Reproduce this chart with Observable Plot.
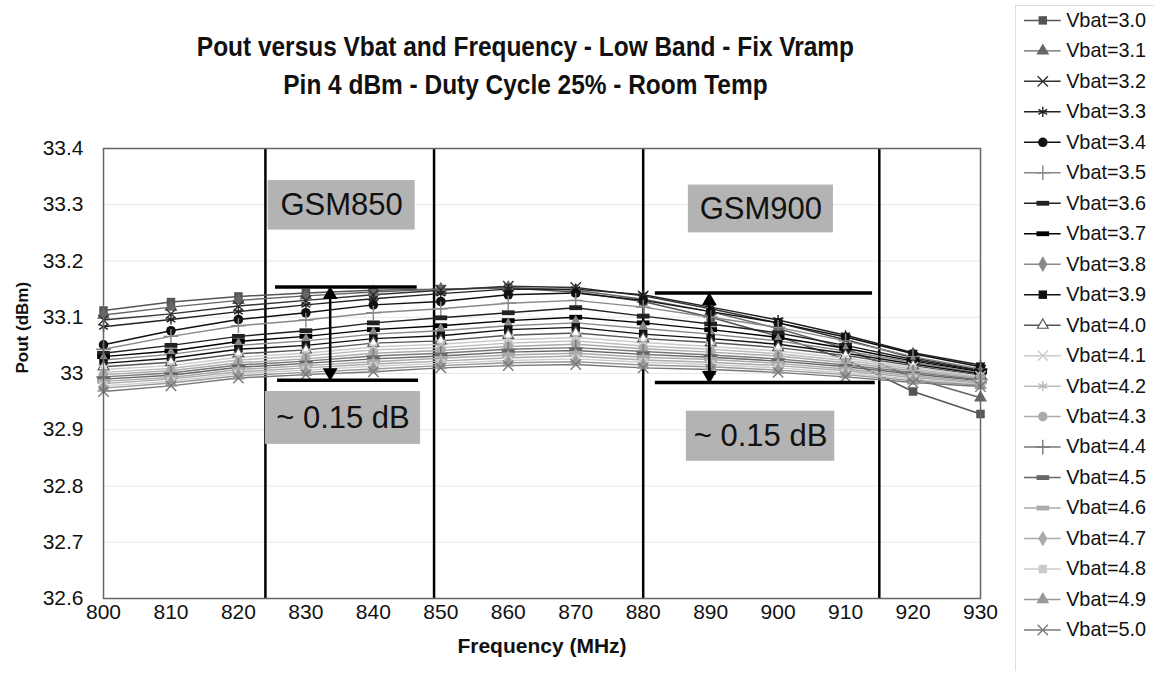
<!DOCTYPE html>
<html><head><meta charset="utf-8">
<script src="https://cdn.jsdelivr.net/npm/d3@7"></script>
<script src="https://cdn.jsdelivr.net/npm/@observablehq/plot@0.6"></script>
<style>
body{margin:0;background:#fff;font-family:"Liberation Sans",Arial,sans-serif;}
#wrap{position:relative;width:1154px;height:675px;overflow:hidden;background:#fff;}
#main{position:absolute;left:0;top:0;}
#title{position:absolute;left:0;top:28px;width:1051px;text-align:center;font-family:"Liberation Sans",Arial,sans-serif;font-weight:bold;font-size:27px;line-height:38px;color:#111;transform:scaleX(0.905);transform-origin:525px 0;}
#legend{position:absolute;left:1015px;top:5px;border-left:1px solid #ddd;border-top:1px solid #ddd;}
</style></head><body>
<div id="wrap"><div id="main"></div>
<div id="title">Pout versus Vbat and Frequency - Low Band - Fix Vramp<br>Pin 4 dBm - Duty Cycle 25% - Room Temp</div>
<div id="legend"></div></div>
<script>
// ---- data ----
const frequencies = [800, 810, 820, 830, 840, 850, 860, 870, 880, 890, 900, 910, 920, 930];
const yTicks = [32.6, 32.7, 32.8, 32.9, 33.0, 33.1, 33.2, 33.3, 33.4];
const vbatLabels = ["Vbat=3.0","Vbat=3.1","Vbat=3.2","Vbat=3.3","Vbat=3.4","Vbat=3.5","Vbat=3.6","Vbat=3.7","Vbat=3.8","Vbat=3.9","Vbat=4.0","Vbat=4.1","Vbat=4.2","Vbat=4.3","Vbat=4.4","Vbat=4.5","Vbat=4.6","Vbat=4.7","Vbat=4.8","Vbat=4.9","Vbat=5.0"];
const pout30 = [33.112, 33.127, 33.137, 33.143, 33.148, 33.150, 33.152, 33.145, 33.128, 33.100, 33.066, 33.025, 32.968, 32.928];
const pout31 = [33.104, 33.118, 33.130, 33.138, 33.145, 33.150, 33.153, 33.148, 33.132, 33.110, 33.080, 33.045, 32.992, 32.957];
const pout32 = [33.095, 33.106, 33.120, 33.130, 33.140, 33.148, 33.155, 33.153, 33.138, 33.115, 33.090, 33.060, 33.028, 33.006];
const pout33 = [33.083, 33.096, 33.110, 33.122, 33.133, 33.142, 33.150, 33.150, 33.140, 33.118, 33.095, 33.068, 33.037, 33.015];
const pout34 = [33.051, 33.076, 33.096, 33.108, 33.122, 33.128, 33.140, 33.143, 33.130, 33.110, 33.090, 33.065, 33.035, 33.012];
const pout35 = [33.043, 33.066, 33.085, 33.095, 33.108, 33.115, 33.125, 33.130, 33.118, 33.100, 33.082, 33.058, 33.030, 33.008];
const pout36 = [33.036, 33.050, 33.066, 33.076, 33.090, 33.099, 33.108, 33.117, 33.102, 33.088, 33.072, 33.050, 33.025, 33.005];
const pout37 = [33.030, 33.040, 33.057, 33.066, 33.078, 33.085, 33.094, 33.100, 33.090, 33.078, 33.064, 33.045, 33.022, 33.003];
const pout38 = [33.024, 33.034, 33.050, 33.058, 33.070, 33.076, 33.085, 33.090, 33.080, 33.070, 33.058, 33.040, 33.020, 33.001];
const pout39 = [33.018, 33.027, 33.043, 33.050, 33.062, 33.067, 33.078, 33.082, 33.070, 33.062, 33.052, 33.036, 33.017, 32.999];
const pout40 = [33.012, 33.020, 33.035, 33.042, 33.054, 33.058, 33.068, 33.072, 33.062, 33.055, 33.046, 33.032, 33.014, 32.997];
const pout41 = [33.007, 33.014, 33.029, 33.036, 33.047, 33.052, 33.060, 33.064, 33.055, 33.048, 33.040, 33.027, 33.011, 32.995];
const pout42 = [33.002, 33.009, 33.024, 33.031, 33.042, 33.046, 33.054, 33.058, 33.049, 33.043, 33.035, 33.023, 33.008, 32.993];
const pout43 = [32.998, 33.005, 33.019, 33.026, 33.036, 33.041, 33.048, 33.052, 33.044, 33.038, 33.031, 33.019, 33.005, 32.991];
const pout44 = [32.994, 33.001, 33.015, 33.022, 33.031, 33.036, 33.043, 33.046, 33.039, 33.033, 33.026, 33.015, 33.002, 32.989];
const pout45 = [32.990, 32.997, 33.011, 33.018, 33.026, 33.031, 33.038, 33.041, 33.034, 33.029, 33.022, 33.012, 32.999, 32.987];
const pout46 = [32.986, 32.993, 33.007, 33.014, 33.021, 33.027, 33.033, 33.036, 33.029, 33.025, 33.018, 33.008, 32.996, 32.985];
const pout47 = [32.982, 32.990, 33.003, 33.010, 33.017, 33.022, 33.028, 33.031, 33.024, 33.020, 33.014, 33.005, 32.993, 32.983];
const pout48 = [32.978, 32.986, 33.000, 33.006, 33.013, 33.018, 33.023, 33.026, 33.020, 33.016, 33.010, 33.001, 32.990, 32.981];
const pout49 = [32.974, 32.983, 32.996, 33.002, 33.008, 33.014, 33.019, 33.021, 33.015, 33.012, 33.006, 32.998, 32.987, 32.979];
const pout50 = [32.968, 32.978, 32.992, 32.998, 33.003, 33.010, 33.014, 33.016, 33.010, 33.007, 33.002, 32.994, 32.984, 32.977];
const allPout = [pout30,pout31,pout32,pout33,pout34,pout35,pout36,pout37,pout38,pout39,pout40,pout41,pout42,pout43,pout44,pout45,pout46,pout47,pout48,pout49,pout50];

// band edges (MHz) and annotations (data units)
const bandEdges = [824, 849, 880, 915];
const bandLabels = [
  {label: "GSM850", x1: 824.4, x2: 846.2, y1: 33.255, y2: 33.343},
  {label: "GSM900", x1: 886.7, x2: 908.2, y1: 33.250, y2: 33.335},
  {label: "~ 0.15 dB", x1: 824.0, x2: 847.0, y1: 32.874, y2: 32.968},
  {label: "~ 0.15 dB", x1: 886.4, x2: 908.4, y1: 32.844, y2: 32.933}
];
const spanBars = [
  {y: 33.154, x1: 825.5, x2: 846.5},
  {y: 32.988, x1: 825.8, x2: 846.7},
  {y: 33.143, x1: 881.8, x2: 914.0},
  {y: 32.984, x1: 881.8, x2: 914.4}
];
const spanArrows = [
  {x: 833.6, y1: 32.993, y2: 33.149},
  {x: 889.8, y1: 32.988, y2: 33.138}
];

// ---- styles ----
const dash = {draw(ctx, size){ const w = Math.sqrt(size) * 1.5, h = w * 0.38; ctx.rect(-w/2, -h/2, w, h); }};
const styles = [
  {color:"#555", symbol:"square", filled:true},
  {color:"#666", symbol:"triangle", filled:true},
  {color:"#333", symbol:"times", filled:false},
  {color:"#222", symbol:"asterisk", filled:false},
  {color:"#111", symbol:"circle", filled:true},
  {color:"#888", symbol:"plus", filled:false},
  {color:"#222", symbol:dash, filled:true},
  {color:"#000", symbol:dash, filled:true},
  {color:"#888", symbol:"diamond", filled:true},
  {color:"#111", symbol:"square", filled:true},
  {color:"#555", symbol:"triangle", filled:false, open:true},
  {color:"#ccc", symbol:"times", filled:false},
  {color:"#bbb", symbol:"asterisk", filled:false},
  {color:"#aaa", symbol:"circle", filled:true},
  {color:"#777", symbol:"plus", filled:false},
  {color:"#666", symbol:dash, filled:true},
  {color:"#aaa", symbol:dash, filled:true},
  {color:"#aaa", symbol:"diamond", filled:true},
  {color:"#ccc", symbol:"square", filled:true},
  {color:"#999", symbol:"triangle", filled:true},
  {color:"#777", symbol:"times", filled:false}
];

const series = vbatLabels.map((name, i) => ({
  name, idx: i, style: styles[i],
  points: frequencies.map((f, j) => ({freq: f, pout: allPout[i][j], name}))
}));

function dotMark(data, st, opts) {
  if (st.open) return Plot.dot(data, {...opts, symbol: st.symbol, fill: "#fff", stroke: st.color, strokeWidth: 1.2, r: 4});
  if (st.filled) return Plot.dot(data, {...opts, symbol: st.symbol, fill: st.color, stroke: "none", r: 4.8});
  return Plot.dot(data, {...opts, symbol: st.symbol, fill: "none", stroke: st.color, strokeWidth: 1.4, r: 4.8});
}

const seriesMarks = [];
series.forEach(s => {
  seriesMarks.push(Plot.line(s.points, {x: "freq", y: "pout", stroke: s.style.color, strokeWidth: 1.5}));
});
series.forEach(s => {
  seriesMarks.push(dotMark(s.points, s.style, {x: "freq", y: "pout"}));
});

const main = Plot.plot({
  width: 1010, height: 675,
  marginLeft: 103, marginRight: 30, marginTop: 148, marginBottom: 77,
  style: {fontFamily: "'Liberation Sans', Arial, sans-serif", fontSize: "21px", color: "#111", background: "transparent"},
  x: {domain: [800, 930], ticks: frequencies, tickSize: 0, tickPadding: 6, label: null},
  y: {domain: [32.6, 33.4], ticks: yTicks, tickSize: 0, tickPadding: 20, label: null,
      tickFormat: d => String(+d.toFixed(1))},
  marks: [
    Plot.gridY(yTicks, {stroke: "#e8e8e8", strokeOpacity: 1}),
    Plot.ruleX(bandEdges, {stroke: "#000", strokeWidth: 2.5}),
    ...seriesMarks,
    Plot.frame({stroke: "#666", strokeWidth: 1.5}),
    Plot.rect(bandLabels, {x1: "x1", x2: "x2", y1: "y1", y2: "y2", fill: "#b3b3b3"}),
    Plot.text(bandLabels, {x: d => (d.x1 + d.x2) / 2, y: d => (d.y1 + d.y2) / 2, text: "label", fontSize: 31, fill: "#111"}),
    Plot.ruleY(spanBars, {y: "y", x1: "x1", x2: "x2", stroke: "#000", strokeWidth: 3.5}),
    Plot.ruleX(spanArrows, {x: "x", y1: "y1", y2: "y2", stroke: "#000", strokeWidth: 2.5}),
    Plot.dot(spanArrows, {x: "x", y: "y2", symbol: "triangle", fill: "#000", r: 5.5, dy: 5}),
    Plot.dot(spanArrows, {x: "x", y: "y1", symbol: "triangle", fill: "#000", r: 5.5, rotate: 180, dy: -5}),
    Plot.text([0], {frameAnchor: "left", text: () => "Pout (dBm)", rotate: -90, dx: -81, fontWeight: "bold", fontSize: 17}),
    Plot.text([0], {frameAnchor: "bottom", text: () => "Frequency (MHz)", dy: 54, fontWeight: "bold", fontSize: 21})
  ]
});
document.getElementById("main").appendChild(main);

// ---- legend ----
const legendData = series.map(s => ({name: s.name, idx: s.idx, style: s.style, pos: 0.5}));
const legendMarks = [Plot.ruleY(legendData, {y: "idx", x1: 0, x2: 1, stroke: d => d.style.color, strokeWidth: 1.5})];
legendData.forEach(d => legendMarks.push(dotMark([d], d.style, {x: "pos", y: "idx"})));
legendMarks.push(Plot.text(legendData, {x: 1, y: "idx", text: "name", textAnchor: "start", dx: 5, fontSize: 20, fill: "#111"}));
const legend = Plot.plot({
  width: 139, height: 670, margin: 0,
  style: {fontFamily: "'Liberation Sans', Arial, sans-serif", background: "transparent"},
  x: {domain: [0, 1], range: [8, 45], axis: null},
  y: {domain: [0, vbatLabels.length - 1], range: [14, 628], axis: null},
  marks: legendMarks
});
document.getElementById("legend").appendChild(legend);
</script></body></html>
